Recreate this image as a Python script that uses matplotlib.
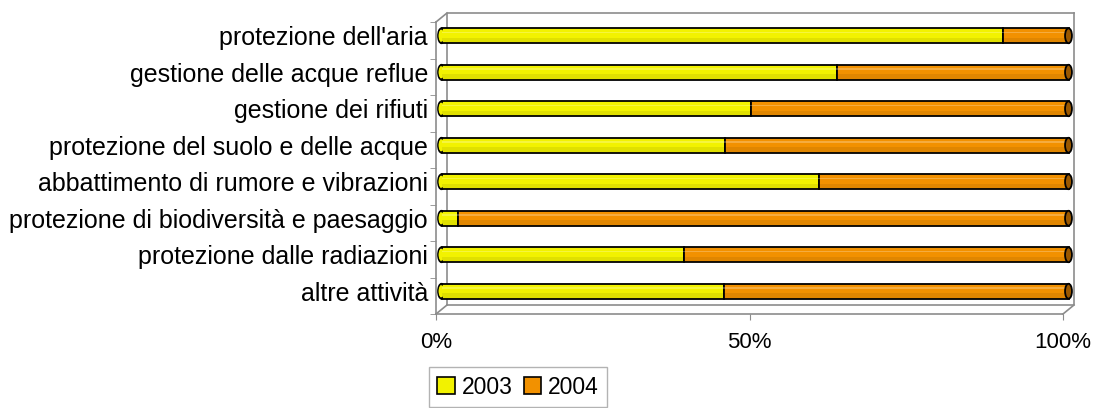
import matplotlib
matplotlib.use("Agg")
import matplotlib.pyplot as plt
from matplotlib.patches import Patch, Ellipse
from matplotlib.lines import Line2D
from matplotlib.transforms import ScaledTranslation
import numpy as np

plt.rcParams['font.family'] = ['Liberation Sans', 'DejaVu Sans']

categories = ["protezione dell'aria", "gestione delle acque reflue", "gestione dei rifiuti",
              "protezione del suolo e delle acque", "abbattimento di rumore e vibrazioni",
              "protezione di biodiversità e paesaggio", "protezione dalle radiazioni",
              "altre attività"]
share_2003 = [0.896, 0.631, 0.494, 0.452, 0.602, 0.027, 0.387, 0.451]
share_2004 = [1 - v for v in share_2003]
series_names = ["2003", "2004"]
tick_vals = [0, 0.5, 1.0]
tick_labels = ["0%", "50%", "100%"]

YELLOW = '#F2F200'
ORANGE = '#F29100'
CAP = '#9A5800'
GRAY = '#8C8C8C'

W, H = 1095, 408
fig = plt.figure(figsize=(W / 100, H / 100), dpi=100)
ax = fig.add_axes([436 / W, 1 - 314 / H, (1063 - 436) / W, (314 - 22) / H])

n = len(categories)
y = np.arange(n)
ax.set_xlim(0, 1)
ax.set_ylim(n - 0.5, -0.5)

dxp, dyp = 11, 9  # depth offset in px
half = ax.transData + ScaledTranslation(dxp / 200, dyp / 200, fig.dpi_scale_trans)
back = ax.transAxes + ScaledTranslation(dxp / 100, dyp / 100, fig.dpi_scale_trans)

bh = 0.41
s03 = np.array(share_2003)
s04 = np.array(share_2004)
capw = 0.011
for i in range(n):
    ax.add_patch(Ellipse((0, y[i]), capw, bh, facecolor=YELLOW, edgecolor='black',
                         lw=1.3, transform=half, zorder=2, clip_on=False))
ax.barh(y, s03, height=bh, color=YELLOW, edgecolor='black', linewidth=1.3,
        transform=half, zorder=3, clip_on=False)
ax.barh(y, s04, left=s03, height=bh, color=ORANGE, edgecolor='black', linewidth=1.3,
        transform=half, zorder=3, clip_on=False)
for i in range(n):
    ax.add_patch(Ellipse((0, y[i]), capw * 0.85, bh * 0.8, facecolor=YELLOW, edgecolor='none',
                         transform=half, zorder=3.5, clip_on=False))
# cylinder shading
ax.barh(y - bh * 0.22, np.ones(n), height=bh * 0.12, color='white', alpha=0.25,
        linewidth=0, transform=half, zorder=4, clip_on=False)
ax.barh(y + bh * 0.3, np.ones(n), height=bh * 0.3, color='black', alpha=0.07,
        linewidth=0, transform=half, zorder=4, clip_on=False)
for i in range(n):
    ax.add_patch(Ellipse((1.0, y[i]), capw, bh, facecolor=CAP, edgecolor='black',
                         lw=1.3, transform=half, zorder=5, clip_on=False))

# 3D frame lines
kw = dict(color=GRAY, lw=1.2, clip_on=False, zorder=1)
ax.add_line(Line2D([0, 1, 1], [0, 0, 1], transform=back, **kw))
ax.add_line(Line2D([0, 0, 1], [0, 1, 1], transform=back, **kw))
inv = fig.transFigure.inverted()
for (xa, ya) in [(0, 0), (0, 1), (1, 0)]:
    a = inv.transform(ax.transAxes.transform((xa, ya)))
    b = inv.transform(back.transform((xa, ya)))
    fig.add_artist(Line2D([a[0], b[0]], [a[1], b[1]], transform=fig.transFigure,
                          color=GRAY, lw=1.2))

for s in ['top', 'right']:
    ax.spines[s].set_visible(False)
for s in ['left', 'bottom']:
    ax.spines[s].set_color(GRAY)
    ax.spines[s].set_linewidth(1.2)

ax.set_xticks(tick_vals)
ax.set_xticklabels(tick_labels, fontsize=16)
ax.tick_params(axis='x', length=4, color=GRAY, pad=9)
ax.set_yticks(y - 0.13)
ax.set_yticklabels(categories, fontsize=18)
ax.set_yticks(np.arange(n + 1) - 0.5, minor=True)
ax.tick_params(axis='y', which='major', length=0, pad=5.8)
ax.tick_params(axis='y', which='minor', length=4, color=GRAY)

handles = [Patch(facecolor=YELLOW, edgecolor='black', lw=1.2),
           Patch(facecolor=ORANGE, edgecolor='black', lw=1.2)]
leg = fig.legend(handles, series_names, loc='center', bbox_to_anchor=(518 / W, 1 - 387 / H),
                 ncol=2, fontsize=16.5, frameon=True, fancybox=False, handlelength=0.75,
                 handleheight=0.75, handletextpad=0.3, columnspacing=0.5, borderpad=0.35)
leg.get_frame().set_edgecolor('#A0A0A0')
leg.get_frame().set_linewidth(1.0)

fig.savefig('out.png', dpi=100)
